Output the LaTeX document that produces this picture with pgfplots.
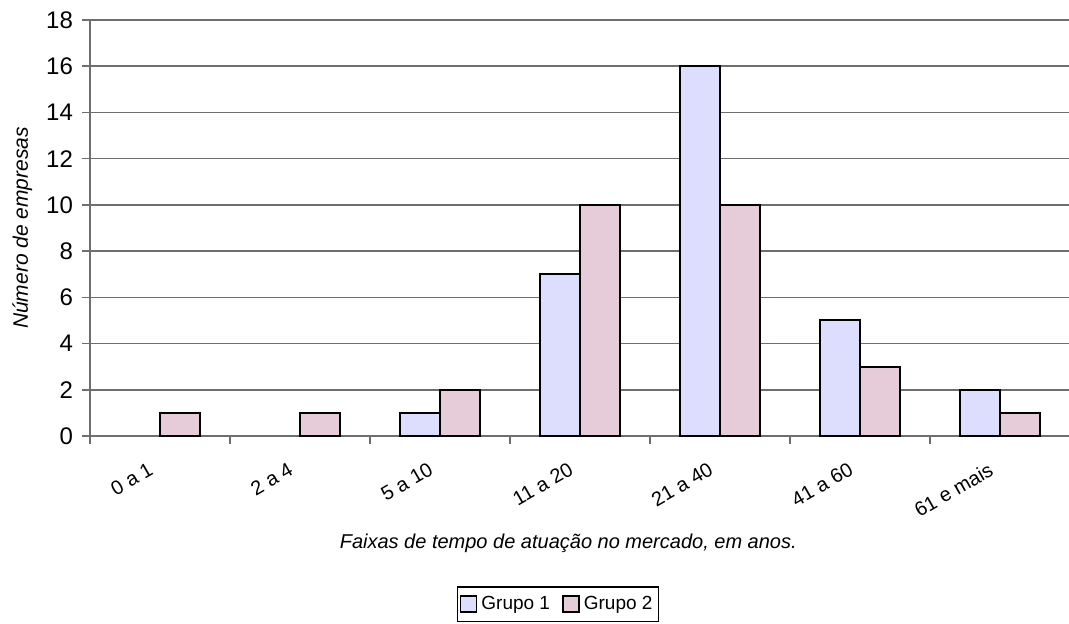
\documentclass[border=0pt]{standalone}
\usepackage{fontspec}
\setmainfont{Liberation Sans}
\usepackage{pgfplots}
\pgfplotsset{compat=1.18}

\definecolor{grupoum}{RGB}{221,221,253}
\definecolor{grupodois}{RGB}{230,204,217}
\definecolor{gridcinza}{RGB}{110,110,110}

\begin{document}
\begin{tikzpicture}
% frame of the picture: 1 px of the reference = 0.5pt
\path[use as bounding box] (-45pt,-93.5pt) rectangle (489.5pt,218pt);
\begin{axis}[
    scale only axis,
    width=490pt, height=208pt,
    at={(0,0)}, anchor=south west,
    ybar=0pt, bar width=20pt,
    xmin=-0.5, xmax=6.5, ymin=0, ymax=18,
    enlarge x limits=false,
    axis lines*=left,
    axis line style={-, draw=gridcinza, line width=0.75pt},
    ymajorgrids,
    major grid style={draw=gridcinza, line width=0.75pt},
    ytick={0,2,...,18},
    xtick={0,...,6},
    xticklabels={0 a 1, 2 a 4, 5 a 10, 11 a 20, 21 a 40, 41 a 60, 61 e mais},
    minor xtick={-0.5,0.5,...,6.5},
    major x tick style={draw=none},
    tick align=outside,
    major tick length=4pt, minor tick length=4pt,
    tick style={draw=gridcinza, line width=0.75pt},
    /pgf/number format/assume math mode=true,
    yticklabel style={font=\fontsize{12}{14}\selectfont, xshift=-1pt},
    xticklabel style={font=\fontsize{10}{12}\selectfont, xshift=-5pt, yshift=-4pt, rotate=30, anchor=north east},
    xlabel={Faixas de tempo de atuação no mercado, em anos.},
    ylabel={Número de empresas},
    xlabel style={font=\fontsize{10}{12}\selectfont\itshape, at={(axis description cs:0.488,-0.257)}, anchor=center},
    ylabel style={font=\fontsize{10.5}{12}\selectfont\itshape, at={(axis description cs:-0.069,0.5)}, anchor=center},
    legend columns=2,
    legend style={at={(axis description cs:0.3745,-0.404)}, anchor=west,
        draw=black, line width=0.6pt, font=\fontsize{9.5}{11}\selectfont,
        inner xsep=1pt, inner ysep=2.5pt,
        /tikz/every even column/.append style={column sep=4pt}},
    legend image code/.code={\draw[#1, line width=0.9pt] (0pt,-4pt) rectangle (8pt,4pt);},
]
\addplot[fill=grupoum, draw=black, line width=1pt] coordinates {
    (2,1) (3,7) (4,16) (5,5) (6,2)
};
\addplot[fill=grupodois, draw=black, line width=1pt] coordinates {
    (0,1) (1,1) (2,2) (3,10) (4,10) (5,3) (6,1)
};
\legend{Grupo 1, Grupo 2}
\end{axis}
\end{tikzpicture}
\end{document}
